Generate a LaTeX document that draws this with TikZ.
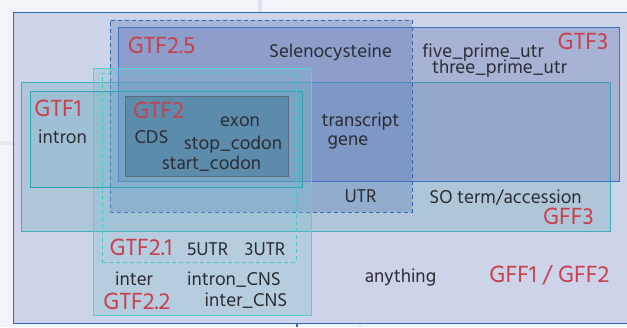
\documentclass[tikz,border=0pt]{standalone}
\usepackage{fontspec}
\setmainfont{Hind Madurai}
\definecolor{bgc}{HTML}{F1F4F8}
\definecolor{bgline}{HTML}{DDE4EC}
\definecolor{txt}{HTML}{2B2B33}
\definecolor{lab}{HTML}{C8404C}
\definecolor{outerfill}{HTML}{CDD3E8}
\definecolor{outerdraw}{HTML}{2E6BB0}
\definecolor{gffthreefill}{HTML}{6CA8B9}
\definecolor{gffthreedraw}{HTML}{39AFC0}
\definecolor{gtfthreefill}{HTML}{5268A9}
\definecolor{gtfthreedraw}{HTML}{3B74C4}
\definecolor{gtffivefill}{HTML}{5170B7}
\definecolor{gtffivedraw}{HTML}{3068B0}
\definecolor{gtftwotwofill}{HTML}{80C2CD}
\definecolor{gtftwotwodraw}{HTML}{55D0D0}
\definecolor{gtftwoonedraw}{HTML}{45C8C8}
\definecolor{gtfonefill}{HTML}{5FA7C0}
\definecolor{gtfonedraw}{HTML}{2AA5B5}
\definecolor{gtftwofill}{HTML}{3F6F90}
\definecolor{gtftwodraw}{HTML}{5C6B7D}
\begin{document}
\begin{tikzpicture}[x=1pt,y=-1pt,
  box/.style={rectangle, inner sep=0pt, outer sep=0pt, anchor=north west, line width=0.9pt},
  term/.style={text=txt, font=\fontsize{19}{20}\selectfont, inner sep=0pt, anchor=base},
  fmt/.style={text=lab, font=\fontsize{24}{26}\selectfont, inner sep=0pt, anchor=base}]
\useasboundingbox (0,0) rectangle (627,327);
\fill[bgc] (0,0) rectangle (627,327);
\fill[bgline] (258,0) rectangle (262,12);
\fill[bgline!60!bgc] (0,141) rectangle (13,145);
\fill[outerdraw] (296,323) rectangle (298,327);
\fill[bgline!60!bgc] (358,323) rectangle (362,327);
% boxes
\node[box, draw=outerdraw, fill=outerfill, minimum width=620, minimum height=311] (gffonetwo) at (13,12) {};
\node[box, draw=gffthreedraw, fill=gffthreefill, fill opacity=0.3, minimum width=589, minimum height=149] (gffthree) at (21,82) {};
\node[box, draw=gtfthreedraw, fill=gtfthreefill, fill opacity=0.3, minimum width=501, minimum height=154] (gtfthree) at (118,27) {};
\node[box, draw=gtffivedraw, dashed, dash pattern=on 4pt off 3pt, fill=gtffivefill, fill opacity=0.3, minimum width=302, minimum height=192] (gtftwofive) at (110,20) {};
\node[box, draw=gtftwotwodraw, fill=gtftwotwofill, fill opacity=0.3, minimum width=218, minimum height=247] (gtftwotwo) at (93,68) {};
\node[box, draw=gtfonedraw, fill=gtfonefill, fill opacity=0.2, minimum width=272, minimum height=96] (gtfone) at (30,91) {};
\node[box, draw=gtftwoonedraw, dashed, dash pattern=on 4pt off 3pt, minimum width=194, minimum height=189] (gtftwoone) at (102,73) {};
\node[box, draw=gtftwodraw, fill=gtftwofill, fill opacity=0.45, minimum width=163, minimum height=80] (gtftwo) at (125,96) {};
% labels
\node[fmt] (lgtftwofive) at (161.5,53) {GTF2.5};
\node[fmt] (lgtfthree) at (583,49) {GTF3};
\node[fmt] (lgtfone) at (58,116.5) {GTF1};
\node[fmt] (lgtftwo) at (158.7,118) {GTF2};
\node[fmt] (lgffthree) at (568.5,224) {GFF3};
\node[fmt] (lgtftwoone) at (141,255) {GTF2.1};
\node[fmt] (lgtftwotwo) at (137,309) {GTF2.2};
\node[fmt] (lgffonetwo) at (549.5,282.5) {GFF1 / GFF2};
% terms
\node[term] (selenocysteine) at (330.5,57) {Selenocysteine};
\node[term] (fiveprime) at (483,57) {five\_prime\_utr};
\node[term] (threeprime) at (499.5,73.5) {three\_prime\_utr};
\node[term] (intron) at (62.5,143) {intron};
\node[term] (exon) at (240,126.5) {exon};
\node[term] (cds) at (151.5,143.5) {CDS};
\node[term] (stopcodon) at (233,149) {stop\_codon};
\node[term] (startcodon) at (211.5,169.8) {start\_codon};
\node[term] (transcript) at (360.5,126.5) {transcript};
\node[term] (gene) at (348,145) {gene};
\node[term] (utr) at (360.5,202.5) {UTR};
\node[term] (soterm) at (505.5,203.5) {SO term/accession};
\node[term] (fiveutr) at (207.5,255) {5UTR};
\node[term] (threeutr) at (265,255) {3UTR};
\node[term] (inter) at (134,285) {inter};
\node[term] (intronCNS) at (234,285) {intron\_CNS};
\node[term] (interCNS) at (246,306) {inter\_CNS};
\node[term] (anything) at (400.5,282.5) {anything};
\end{tikzpicture}
\end{document}
